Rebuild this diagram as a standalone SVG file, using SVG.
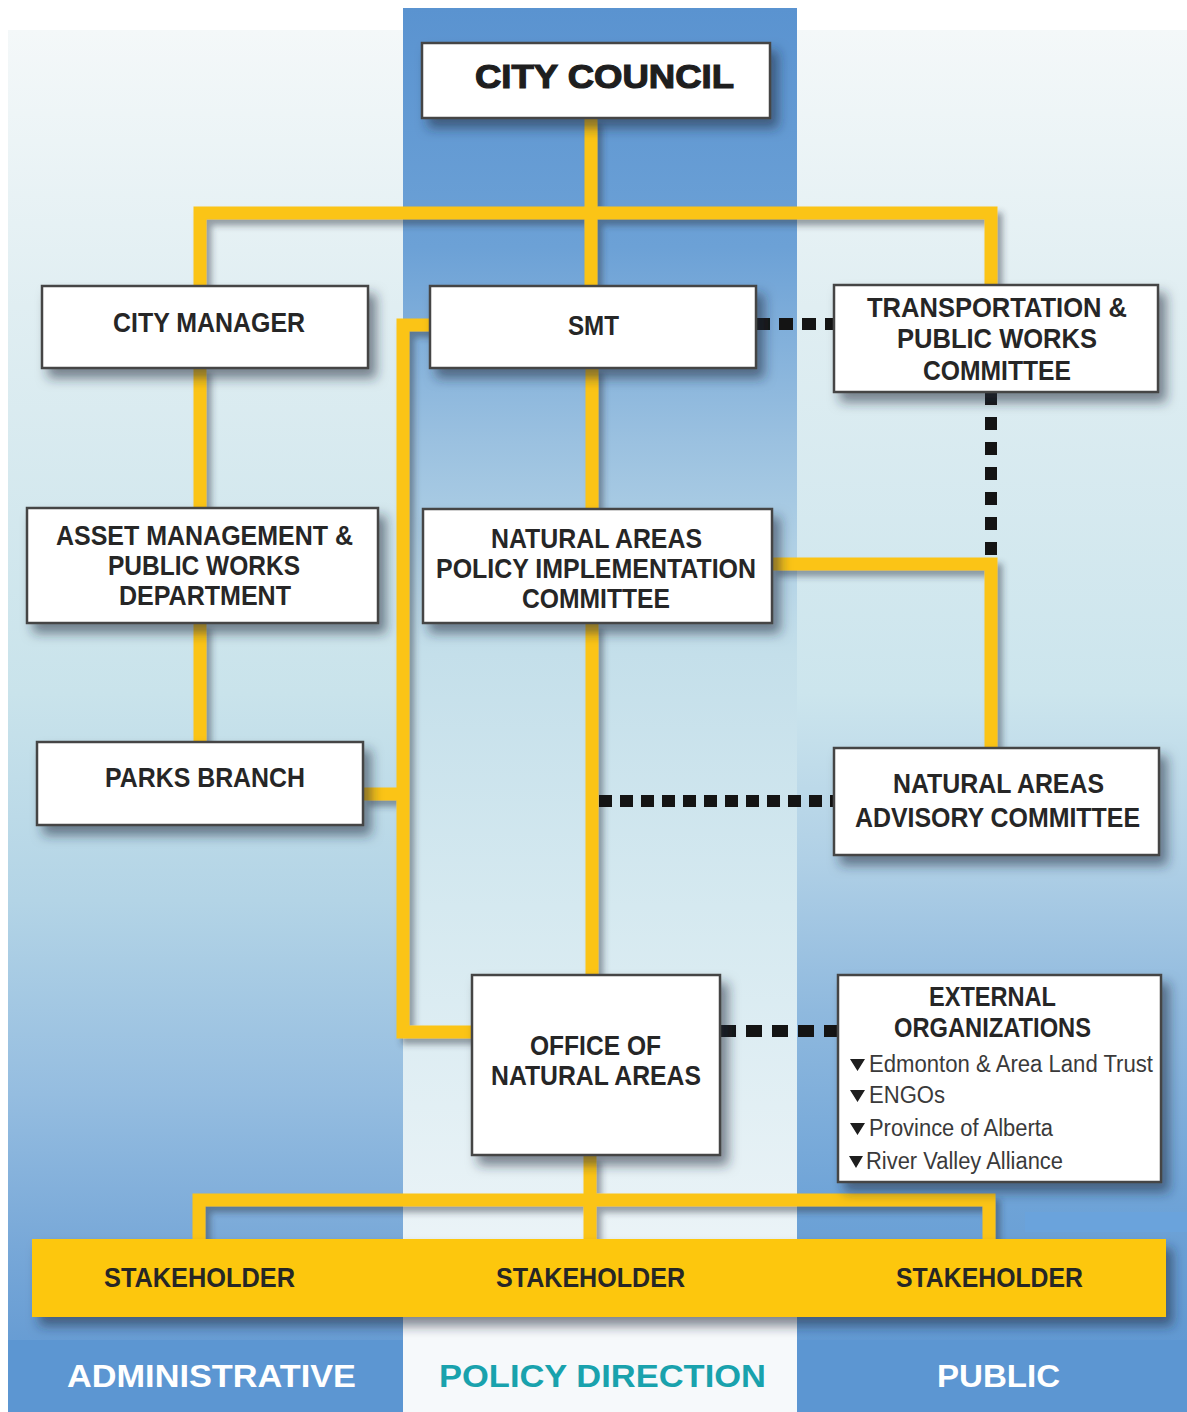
<svg xmlns="http://www.w3.org/2000/svg" width="1187" height="1412" viewBox="0 0 1187 1412">
<defs>
<linearGradient id="gLeft" x1="0" y1="30" x2="0" y2="1412" gradientUnits="userSpaceOnUse">
<stop offset="0" stop-color="#f4f8f9"/>
<stop offset="0.2" stop-color="#e0eef2"/>
<stop offset="0.48" stop-color="#c9e3eb"/>
<stop offset="0.63" stop-color="#b3d4e6"/>
<stop offset="0.77" stop-color="#95bde0"/>
<stop offset="0.88" stop-color="#78a8d8"/>
<stop offset="1" stop-color="#5b94d0"/>
</linearGradient>
<linearGradient id="gMid" x1="0" y1="8" x2="0" y2="1412" gradientUnits="userSpaceOnUse">
<stop offset="0" stop-color="#5a93d0"/>
<stop offset="0.17" stop-color="#6ca1d6"/>
<stop offset="0.31" stop-color="#9bc1e0"/>
<stop offset="0.46" stop-color="#c4dfea"/>
<stop offset="0.64" stop-color="#d5e9f0"/>
<stop offset="0.85" stop-color="#e8f2f6"/>
<stop offset="1" stop-color="#f7fafb"/>
</linearGradient>
<linearGradient id="gRight" x1="0" y1="30" x2="0" y2="1412" gradientUnits="userSpaceOnUse">
<stop offset="0" stop-color="#f4f8f9"/>
<stop offset="0.2" stop-color="#e0eef2"/>
<stop offset="0.48" stop-color="#cce5ed"/>
<stop offset="0.6" stop-color="#b0d0e6"/>
<stop offset="0.71" stop-color="#8fb9de"/>
<stop offset="0.85" stop-color="#6ea3d7"/>
<stop offset="1" stop-color="#5b94d0"/>
</linearGradient>
<filter id="boxShadow" x="-20%" y="-20%" width="150%" height="160%">
<feDropShadow dx="7" dy="9" stdDeviation="6" flood-color="#1e2a3a" flood-opacity="0.55"/>
</filter>
<filter id="lineShadow" x="-10%" y="-10%" width="130%" height="130%">
<feDropShadow dx="5" dy="6" stdDeviation="3" flood-color="#2a3440" flood-opacity="0.45"/>
</filter>
<style>
.box{fill:#ffffff;stroke:#454545;stroke-width:2.5}
.lbl{font-family:"Liberation Sans",Arial,sans-serif;font-weight:bold;font-size:28px;fill:#262626}
.item{font-family:"Liberation Sans",Arial,sans-serif;font-size:23px;fill:#3a3a3a}
.yl{fill:none;stroke:#fbc416;stroke-width:13;stroke-linejoin:miter}
.dot{fill:none;stroke:#141414;stroke-width:12}
.col{font-family:"Liberation Sans",Arial,sans-serif;font-weight:bold;font-size:31px}
</style>
</defs>

<!-- background -->
<g id="background">
<rect x="0" y="0" width="1187" height="1412" fill="#ffffff"/>
<rect x="8" y="30" width="395" height="1382" fill="url(#gLeft)"/>
<rect x="797" y="30" width="390" height="1382" fill="url(#gRight)"/>
<rect x="403" y="8" width="394" height="1404" fill="url(#gMid)"/>
<rect x="1025" y="1212" width="162" height="20" fill="#6aa3dc"/>
<rect x="8" y="1340" width="395" height="72" fill="#5c96d2"/>
<rect x="797" y="1340" width="390" height="72" fill="#5c96d2"/>
<rect x="403" y="1320" width="394" height="92" fill="#f6f9fb"/>
</g>

<!-- connectors -->
<g id="connectors">
<g filter="url(#lineShadow)">
<path class="yl" d="M591,118 V287"/>
<path class="yl" d="M200,287 V213 H991 V286"/>
<path class="yl" d="M200,367 V509"/>
<path class="yl" d="M200,623 V742"/>
<path class="yl" d="M592,367 V509"/>
<path class="yl" d="M592,623 V975"/>
<path class="yl" d="M430,325 H403 V1032 H472"/>
<path class="yl" d="M363,794 H403"/>
<path class="yl" d="M772,564 H991 V748"/>
<path class="yl" d="M590,1155 V1240"/>
<path class="yl" d="M199,1240 V1200 H989 V1240"/>
</g>
<path class="dot" d="M756,324 H834" stroke-dasharray="14 9"/>
<path class="dot" d="M991,392 V558" stroke-dasharray="13 12"/>
<path class="dot" d="M599,801 H834" stroke-dasharray="13 8"/>
<path class="dot" d="M720,1031 H838" stroke-dasharray="16 10"/>
</g>

<!-- nodes -->
<g id="city-council">
<rect class="box" x="422" y="43" width="348" height="75" filter="url(#boxShadow)"/>
<text x="475" y="88" font-family="'Liberation Sans',Arial,sans-serif" font-weight="bold" font-size="34" fill="#1e1e1e" stroke="#1e1e1e" stroke-width="1.2" textLength="259" lengthAdjust="spacingAndGlyphs">CITY COUNCIL</text>
</g>

<g id="city-manager">
<rect class="box" x="42" y="286" width="326" height="82" filter="url(#boxShadow)"/>
<text class="lbl" x="113" y="332" textLength="192" lengthAdjust="spacingAndGlyphs">CITY MANAGER</text>
</g>

<g id="smt">
<rect class="box" x="430" y="286" width="326" height="82" filter="url(#boxShadow)"/>
<text class="lbl" x="568" y="335" textLength="51" lengthAdjust="spacingAndGlyphs">SMT</text>
</g>

<g id="transportation-committee">
<rect class="box" x="834" y="285" width="324" height="107" filter="url(#boxShadow)"/>
<text class="lbl" x="867" y="317" textLength="260" lengthAdjust="spacingAndGlyphs">TRANSPORTATION &amp;</text>
<text class="lbl" x="897" y="348" textLength="200" lengthAdjust="spacingAndGlyphs">PUBLIC WORKS</text>
<text class="lbl" x="923" y="380" textLength="148" lengthAdjust="spacingAndGlyphs">COMMITTEE</text>
</g>

<g id="asset-management">
<rect class="box" x="27" y="508" width="351" height="115" filter="url(#boxShadow)"/>
<text class="lbl" x="56" y="545" textLength="297" lengthAdjust="spacingAndGlyphs">ASSET MANAGEMENT &amp;</text>
<text class="lbl" x="108" y="575" textLength="192" lengthAdjust="spacingAndGlyphs">PUBLIC WORKS</text>
<text class="lbl" x="119" y="605" textLength="172" lengthAdjust="spacingAndGlyphs">DEPARTMENT</text>
</g>

<g id="napic">
<rect class="box" x="423" y="509" width="349" height="114" filter="url(#boxShadow)"/>
<text class="lbl" x="491" y="548" textLength="211" lengthAdjust="spacingAndGlyphs">NATURAL AREAS</text>
<text class="lbl" x="436" y="578" textLength="320" lengthAdjust="spacingAndGlyphs">POLICY IMPLEMENTATION</text>
<text class="lbl" x="522" y="608" textLength="148" lengthAdjust="spacingAndGlyphs">COMMITTEE</text>
</g>

<g id="parks-branch">
<rect class="box" x="37" y="742" width="326" height="83" filter="url(#boxShadow)"/>
<text class="lbl" x="105" y="787" textLength="200" lengthAdjust="spacingAndGlyphs">PARKS BRANCH</text>
</g>

<g id="naac">
<rect class="box" x="834" y="748" width="325" height="107" filter="url(#boxShadow)"/>
<text class="lbl" x="893" y="793" textLength="211" lengthAdjust="spacingAndGlyphs">NATURAL AREAS</text>
<text class="lbl" x="855" y="827" textLength="285" lengthAdjust="spacingAndGlyphs">ADVISORY COMMITTEE</text>
</g>

<g id="office-of-natural-areas">
<rect class="box" x="472" y="975" width="248" height="180" filter="url(#boxShadow)"/>
<text class="lbl" x="530" y="1055" textLength="131" lengthAdjust="spacingAndGlyphs">OFFICE OF</text>
<text class="lbl" x="491" y="1085" textLength="210" lengthAdjust="spacingAndGlyphs">NATURAL AREAS</text>
</g>

<g id="external-organizations">
<rect class="box" x="838" y="975" width="323" height="207" filter="url(#boxShadow)"/>
<text class="lbl" x="929" y="1006" textLength="127" lengthAdjust="spacingAndGlyphs">EXTERNAL</text>
<text class="lbl" x="894" y="1037" textLength="197" lengthAdjust="spacingAndGlyphs">ORGANIZATIONS</text>
<path d="M850,1059 H865 L857.5,1071 Z M850,1090 H865 L857.5,1102 Z M850,1123 H865 L857.5,1135 Z M849,1156 H863 L856,1168 Z" fill="#1e1e1e"/>
<text class="item" x="869" y="1072" textLength="284" lengthAdjust="spacingAndGlyphs">Edmonton &amp; Area Land Trust</text>
<text class="item" x="869" y="1103" textLength="76" lengthAdjust="spacingAndGlyphs">ENGOs</text>
<text class="item" x="869" y="1136" textLength="184" lengthAdjust="spacingAndGlyphs">Province of Alberta</text>
<text class="item" x="866" y="1169" textLength="197" lengthAdjust="spacingAndGlyphs">River Valley Alliance</text>
</g>

<g id="stakeholders">
<rect x="32" y="1239" width="1134" height="78" fill="#fdc70f" filter="url(#boxShadow)"/>
<text class="lbl" x="104" y="1287" textLength="191" lengthAdjust="spacingAndGlyphs" fill="#1e1e1e">STAKEHOLDER</text>
<text class="lbl" x="496" y="1287" textLength="189" lengthAdjust="spacingAndGlyphs" fill="#1e1e1e">STAKEHOLDER</text>
<text class="lbl" x="896" y="1287" textLength="187" lengthAdjust="spacingAndGlyphs" fill="#1e1e1e">STAKEHOLDER</text>
</g>

<g id="column-labels">
<text class="col" x="67" y="1387" fill="#ffffff" textLength="289" lengthAdjust="spacingAndGlyphs">ADMINISTRATIVE</text>
<text class="col" x="439" y="1387" fill="#19a2ad" textLength="327" lengthAdjust="spacingAndGlyphs">POLICY DIRECTION</text>
<text class="col" x="937" y="1387" fill="#ffffff" textLength="123" lengthAdjust="spacingAndGlyphs">PUBLIC</text>
</g>
</svg>
